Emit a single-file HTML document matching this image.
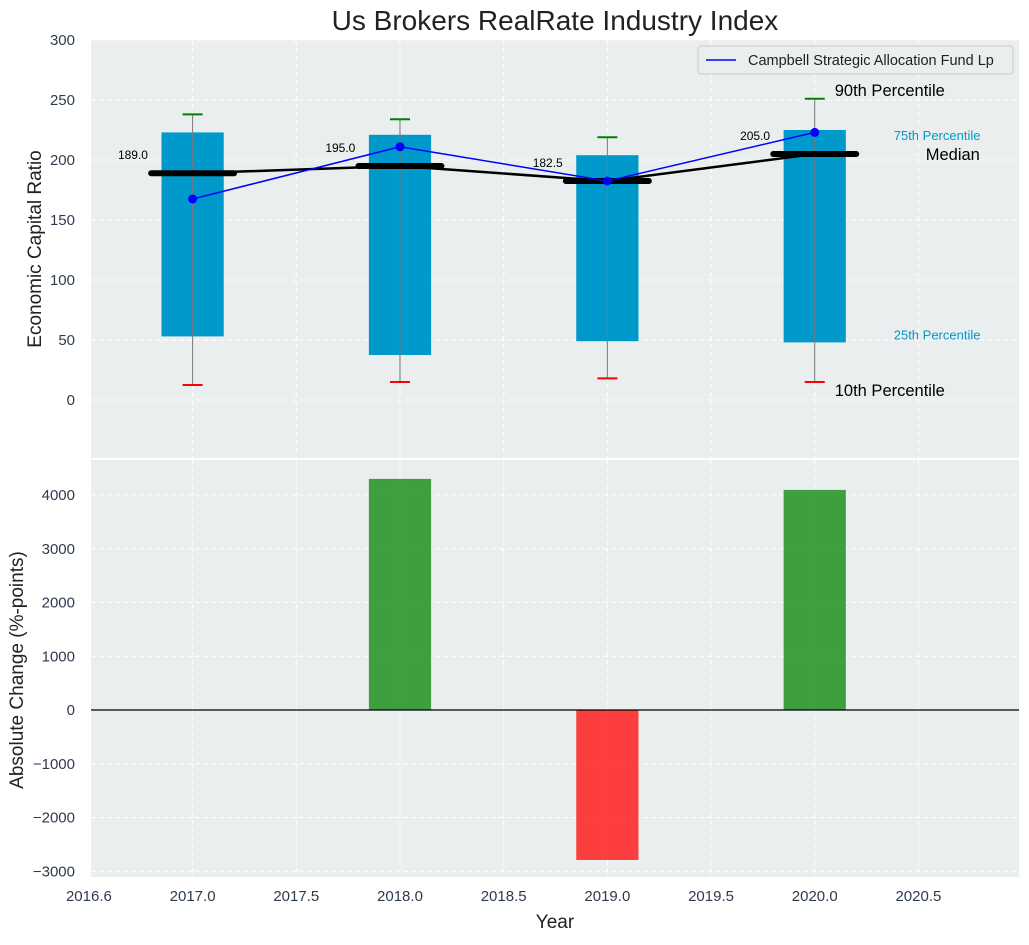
<!DOCTYPE html>
<html><head><meta charset="utf-8"><style>
body{margin:0;background:#fff;font-family:"Liberation Sans","DejaVu Sans",sans-serif;}
svg text{font-family:"Liberation Sans","DejaVu Sans",sans-serif;}
</style></head><body>
<svg id="chart" width="1029" height="940" xmlns="http://www.w3.org/2000/svg"></svg>
<script>
const years=[2017,2018,2019,2020];
const p10=[12.5,15,18,15];
const p25=[53,37.5,49,48];
const median=[189,195,182.5,205];
const p75=[223,221,204,225];
const p90=[238,234,219,251];
const fund=[167.5,211,182.5,223];
const change=[0,4300,-2790,4095];
const xTicks=[2016.5,2017,2017.5,2018,2018.5,2019,2019.5,2020,2020.5];
const yTopTicks=[0,50,100,150,200,250,300];
const yBotTicks=[-3000,-2000,-1000,0,1000,2000,3000,4000];

const NS="http://www.w3.org/2000/svg";
const svg=document.getElementById('chart');
function el(t,a,p){const e=document.createElementNS(NS,t);for(const k in a)e.setAttribute(k,a[k]);(p||svg).appendChild(e);return e;}
const L=91,R=1019;
const x=v=>L+(v-2016.51)*(R-L)/(2020.985-2016.51);
const T0=40,T1=458;const yT=v=>400-v*1.2;
const B0=460,B1=877;const yB=v=>710-v*0.05375;

function panel(top,bot,ticks,yf,name){
  const g=el('g',{});
  el('rect',{x:L,y:top,width:R-L,height:bot-top,fill:'#eaeeee'},g);
  xTicks.forEach(v=>{el('line',{x1:x(v),x2:x(v),y1:top,y2:bot,stroke:'#fff','stroke-dasharray':'5,3','stroke-width':1},g);});
  ticks.forEach(v=>{const yy=yf(v);el('line',{x1:L,x2:R,y1:yy,y2:yy,stroke:'#fff','stroke-dasharray':'5,3'},g);
    const t=el('text',{x:L-16,y:yy+5,'text-anchor':'end','font-size':15,fill:'#2e3b4e'},g);t.textContent=v<0?'\u2212'+(-v):v;});
  return g;
}
const gt=panel(T0,T1,yTopTicks,yT,'top-panel');
const gb=panel(B0,B1,yBotTicks,yB,'bottom-panel');

years.forEach((yr,i)=>{
  const cx=x(yr),w=x(yr+0.15)-x(yr-0.15);
  const b=el('rect',{x:cx-w/2,y:yT(p75[i]),width:w,height:yT(p25[i])-yT(p75[i]),fill:'#0099cc'});
  
  el('line',{x1:cx,x2:cx,y1:yT(p90[i]),y2:yT(p10[i]),stroke:'#777','stroke-width':1});
  el('line',{x1:cx-10,x2:cx+10,y1:yT(p90[i]),y2:yT(p90[i]),stroke:'green','stroke-width':2});
  el('line',{x1:cx-10,x2:cx+10,y1:yT(p10[i]),y2:yT(p10[i]),stroke:'red','stroke-width':2});
  const m=el('line',{x1:x(yr-0.2),x2:x(yr+0.2),y1:yT(median[i]),y2:yT(median[i]),stroke:'#000','stroke-width':6,'stroke-linecap':'round'});
  
  const t=el('text',{x:x(yr-0.22)+1,y:yT(median[i])-14,'text-anchor':'end','font-size':12,fill:'#000'});t.textContent=median[i].toFixed(1);
});
el('polyline',{points:years.map((yr,i)=>x(yr)+','+yT(median[i])).join(' '),fill:'none',stroke:'#000','stroke-width':2.5});
el('polyline',{points:years.map((yr,i)=>x(yr)+','+yT(fund[i])).join(' '),fill:'none',stroke:'blue','stroke-width':1.5});
years.forEach((yr,i)=>{el('circle',{cx:x(yr),cy:yT(fund[i]),r:4.5,fill:'blue'});});
const lx=x(2020)+20;
[['90th Percentile',lx,yT(p90[3])-3,16.5,'#000'],['75th Percentile',lx+59,yT(p75[3])+10,13,'#0099cc'],['Median',lx+91,yT(median[3])+6,16.5,'#000'],['25th Percentile',lx+59,yT(p25[3])-3,13,'#0099cc'],['10th Percentile',lx,yT(p10[3])+14,16.5,'#000']].forEach(a=>{const t=el('text',{x:a[1],y:a[2],'font-size':a[3],fill:a[4]});t.textContent=a[0];});
const lg=el('g',{});
el('rect',{x:698,y:46,width:315,height:28,rx:3,fill:'#eaeeee',stroke:'#ccc'},lg);
el('line',{x1:706,x2:736,y1:60,y2:60,stroke:'blue','stroke-width':1.5},lg);
el('text',{x:748,y:65,'font-size':14.5,fill:'#222'},lg).textContent='Campbell Strategic Allocation Fund Lp';

years.forEach((yr,i)=>{const w=x(yr+0.15)-x(yr-0.15);const v=change[i];if(v===0)return;
  const b=el('rect',{x:x(yr)-w/2,y:Math.min(yB(v),yB(0)),width:w,height:Math.abs(yB(v)-yB(0)),fill:v>0?'#2a962a':'#ff2a2a','fill-opacity':0.9});
  });
el('line',{x1:L,x2:R,y1:yB(0),y2:yB(0),stroke:'#000','stroke-width':1.2});
xTicks.forEach(v=>{const t=el('text',{x:x(v),y:B1+24,'text-anchor':'middle','font-size':15,fill:'#2e3b4e'});t.textContent=v===2016.5?'2016.6':v.toFixed(1);});
el('text',{x:555,y:30,'text-anchor':'middle','font-size':28,fill:'#222'}).textContent='Us Brokers RealRate Industry Index';
el('text',{x:555,y:928,'text-anchor':'middle','font-size':19,fill:'#222'}).textContent='Year';
el('text',{x:0,y:0,'text-anchor':'middle','font-size':19,fill:'#222',transform:'translate(41,249) rotate(-90)'}).textContent='Economic Capital Ratio';
el('text',{x:0,y:0,'text-anchor':'middle','font-size':19,fill:'#222',transform:'translate(23,670) rotate(-90)'}).textContent='Absolute Change (%-points)';
</script></body></html>
